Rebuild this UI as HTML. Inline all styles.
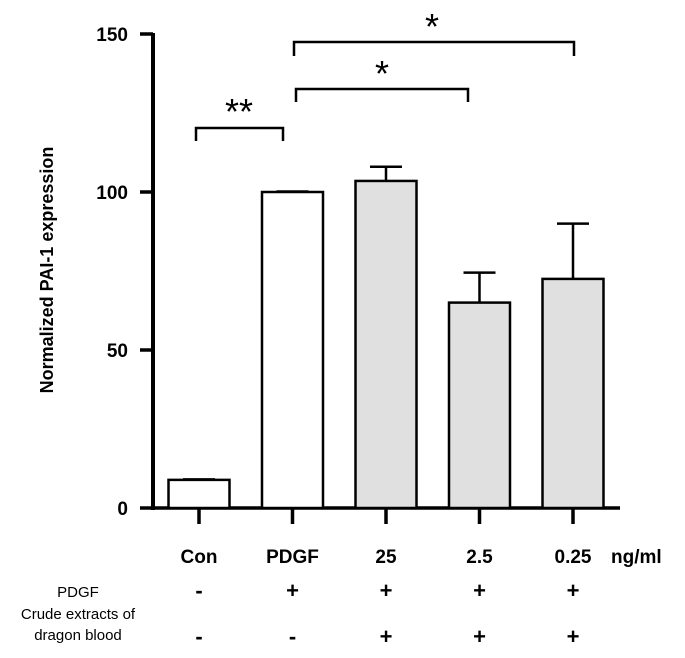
<!DOCTYPE html>
<html><head><meta charset="utf-8"><style>
body{margin:0;background:#fff}
svg{display:block;font-family:"Liberation Sans",sans-serif}
</style></head><body>
<svg id="c" width="685" height="658">
<g id="g"></g>
</svg>
<script>
const categories=["Con","PDGF","25","2.5","0.25"];
const values=[8.9,100,103.5,65,72.5];
const errors=[0,0,4.5,9.5,17.5];
const fills=["#fff","#fff","#e0e0e0","#e0e0e0","#e0e0e0"];
const yTicks=[0,50,100,150];
const pdgfRow=["-","+","+","+","+"];
const crudeRow=["-","-","+","+","+"];
const NS="http://www.w3.org/2000/svg";
const g=document.getElementById('g');
const y=v=>508-v*(474/150);
const x=i=>199+i*93.5;
const BW=61;
function el(t,a,txt){const e=document.createElementNS(NS,t);for(const k in a)e.setAttribute(k,a[k]);if(txt!=null)e.textContent=txt;g.appendChild(e);return e;}
let e=el('line',{x1:153,y1:y(150)-1,x2:153,y2:510,stroke:'#000','stroke-width':4});


e=el('line',{x1:151,y1:508,x2:620,y2:508,stroke:'#000','stroke-width':3.5});


yTicks.forEach(t=>{
 let l=el('line',{x1:140,y1:y(t),x2:153,y2:y(t),stroke:'#000','stroke-width':3.5});
 
 
 let tx=el('text',{x:128,y:y(t)+7,'text-anchor':'end','font-size':19,'font-weight':'bold'},t);
 
 
});
e=el('text',{transform:'translate(53,270) rotate(-90)','text-anchor':'middle','font-size':18,'font-weight':'bold'},'Normalized PAI-1 expression');


categories.forEach((c,i)=>{
 const cx=x(i);
 if(errors[i]>0){
  let l=el('line',{x1:cx,y1:y(values[i]),x2:cx,y2:y(values[i]+errors[i]),stroke:'#000','stroke-width':2.5});
  
  
  l=el('line',{x1:cx-16,y1:y(values[i]+errors[i]),x2:cx+16,y2:y(values[i]+errors[i]),stroke:'#000','stroke-width':2.5});
  
  
 } else {
  let l=el('line',{x1:cx-16,y1:y(values[i])-1,x2:cx+16,y2:y(values[i])-1,stroke:'#000','stroke-width':1.5});
  
  
 }
 let r=el('rect',{x:cx-BW/2,y:y(values[i]),width:BW,height:508-y(values[i]),fill:fills[i],stroke:'#000','stroke-width':2.5});
 
 
 let t=el('line',{x1:cx,y1:508,x2:cx,y2:524,stroke:'#000','stroke-width':3.5});
 
 
 let lb=el('text',{x:cx,y:563,'text-anchor':'middle','font-size':19,'font-weight':'bold'},c);
 
 
 let p=el('text',{x:cx,y:598,'text-anchor':'middle','font-size':22,'font-weight':'bold'},pdgfRow[i]);
 
 
 let q=el('text',{x:cx,y:644,'text-anchor':'middle','font-size':22,'font-weight':'bold'},crudeRow[i]);
 
 
});
e=el('text',{x:611,y:563,'font-size':19,'font-weight':'bold'},'ng/ml');


e=el('text',{x:78,y:597,'text-anchor':'middle','font-size':15},'PDGF');


e=el('text',{x:78,y:619,'text-anchor':'middle','font-size':15},'Crude extracts of');


e=el('text',{x:78,y:640,'text-anchor':'middle','font-size':15},'dragon blood');


[[196,283,128,141,'**',239,124],[296,468,89,102,'*',382,86],[294,574,42,56,'*',432,39]].forEach(b=>{
 let p=el('path',{d:`M${b[0]},${b[3]}V${b[2]}H${b[1]}V${b[3]}`,fill:'none',stroke:'#000','stroke-width':2.5});
 
 
 let s=el('text',{x:b[5],y:b[6],'text-anchor':'middle','font-size':36},b[4]);
 
 
});
</script>
</body></html>
